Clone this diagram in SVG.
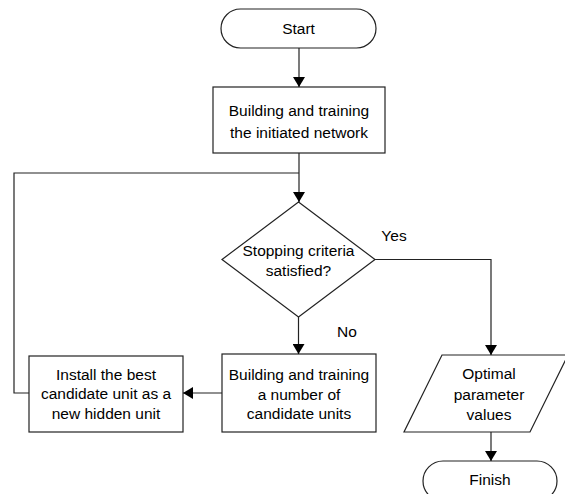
<svg xmlns="http://www.w3.org/2000/svg" width="565" height="494" viewBox="0 0 565 494">
<style>
.s{fill:#fff;stroke:#222;stroke-width:1.2}
.c{fill:none;stroke:#222;stroke-width:1.2}
text{font-family:"Liberation Sans",Arial,sans-serif;font-size:15.5px;fill:#000;text-anchor:middle}
</style>
<defs>
<marker id="a" markerWidth="10" markerHeight="12" refX="10" refY="6" orient="auto" markerUnits="userSpaceOnUse">
<path d="M0,0 L10,6 L0,12 Z" fill="#000"/>
</marker>
</defs>
<g id="start"><rect class="s" x="221" y="9" width="155" height="39" rx="19.5"/><text x="298.5" y="34">Start</text></g>
<g id="build"><rect class="s" x="213" y="87" width="172" height="66"/><text x="299" y="115.5">Building and training</text><text x="299" y="137.5">the initiated network</text></g>
<g id="decision"><polygon class="s" points="298.5,202 375,259.5 298.5,317 222,259.5"/><text x="298.5" y="256">Stopping criteria</text><text x="298.5" y="276">satisfied?</text></g>
<g id="candidates"><rect class="s" x="222" y="354" width="154" height="78"/><text x="299" y="380">Building and training</text><text x="299" y="399.5">a number of</text><text x="299" y="419">candidate units</text></g>
<g id="install"><rect class="s" x="29" y="356" width="154" height="76"/><text x="106" y="379.5">Install the best</text><text x="106" y="399">candidate unit as a</text><text x="106" y="419">new hidden unit</text></g>
<g id="output"><polygon class="s" points="442,355 568,355 530,432 404,432"/><text x="489" y="379">Optimal</text><text x="489" y="400">parameter</text><text x="489" y="420">values</text></g>
<g id="finish"><rect class="s" x="423" y="461" width="134" height="40" rx="20"/><text x="490" y="485">Finish</text></g>
<g id="connectors">
<line class="c" x1="299" y1="48" x2="299" y2="87" marker-end="url(#a)"/>
<line class="c" x1="299" y1="153" x2="299" y2="202" marker-end="url(#a)"/>
<polyline class="c" points="375,259.5 491,259.5 491,355" marker-end="url(#a)"/>
<line class="c" x1="298.5" y1="317" x2="298.5" y2="354" marker-end="url(#a)"/>
<line class="c" x1="222" y1="393" x2="183" y2="393" marker-end="url(#a)"/>
<polyline class="c" points="29,393 14,393 14,173 299,173"/>
<line class="c" x1="491" y1="432" x2="491" y2="461" marker-end="url(#a)"/>
<text x="394" y="241">Yes</text>
<text x="347" y="337">No</text>
</g>
</svg>
